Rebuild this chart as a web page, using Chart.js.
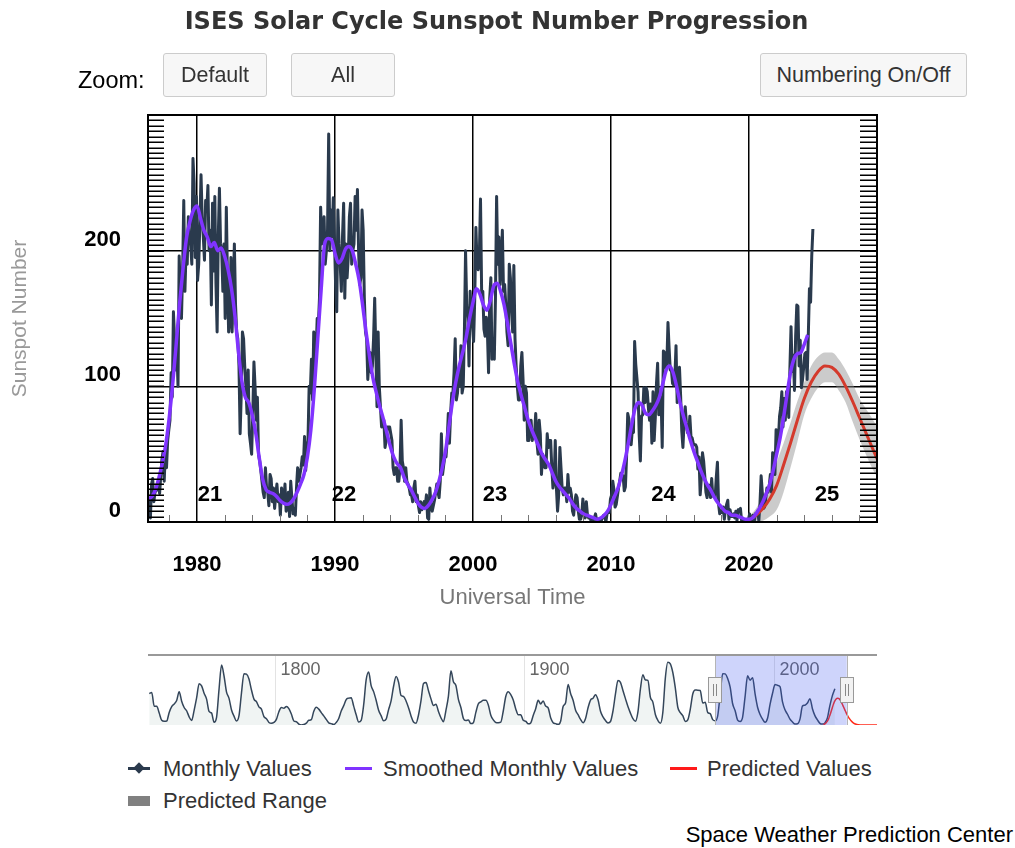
<!DOCTYPE html>
<html>
<head>
<meta charset="utf-8">
<script src="https://cdn.jsdelivr.net/npm/chart.js@4.4.1/dist/chart.umd.min.js"></script>
<style>
  body { margin: 0; background: #fff; font-family: "Liberation Sans", Arial, sans-serif; }
  #page { position: relative; width: 1015px; height: 848px; overflow: hidden; }
  canvas { position: absolute; left: 0; }
  .txt { position: absolute; white-space: nowrap; z-index: 2; }
  #title { left: 0; width: 993px; top: 9px; text-align: center; font: bold 24px "DejaVu Sans", Verdana, sans-serif; color: #333; line-height: 24px; }
  .btn { position: absolute; top: 53px; height: 42px; border: 1px solid #ccc; border-radius: 3px; background: #f7f7f7;
         font-size: 21.5px; color: #333; line-height: 42px; text-align: center; z-index: 2; }
  .leg { font-size: 22px; color: #333; line-height: 24px; }
  .mk { position: absolute; z-index: 2; }
</style>
</head>
<body>
<div id="page">
  <canvas id="main" width="1015" height="612" style="top:0;width:1015px;height:612px"></canvas>
  <canvas id="nav" width="1015" height="100" style="top:640px;width:1015px;height:100px"></canvas>

  <div id="title" class="txt">ISES Solar Cycle Sunspot Number Progression</div>
  <div class="txt" style="left:78px;top:68px;font-size:23.5px;line-height:24px;color:#000">Zoom:</div>
  <div class="btn" style="left:163px;width:102px">Default</div>
  <div class="btn" style="left:291px;width:102px">All</div>
  <div class="btn" style="left:760px;width:205px">Numbering On/Off</div>

  <div class="mk" style="left:128px;top:767px;width:22px;height:3px;background:#2a3a4d"></div>
  <div class="mk" style="left:135px;top:764px;width:8px;height:8px;background:#2a3a4d;transform:rotate(45deg)"></div>
  <div class="txt leg" style="left:163px;top:757px">Monthly Values</div>
  <div class="mk" style="left:345px;top:767px;width:27px;height:3px;background:#8033ff"></div>
  <div class="txt leg" style="left:383px;top:757px">Smoothed Monthly Values</div>
  <div class="mk" style="left:670px;top:767px;width:27px;height:3px;background:#ff1a1a"></div>
  <div class="txt leg" style="left:707px;top:757px">Predicted Values</div>
  <div class="mk" style="left:128px;top:796px;width:22px;height:10px;background:#808080"></div>
  <div class="txt leg" style="left:163px;top:789px">Predicted Range</div>

  <div class="txt" style="right:2px;top:823px;font-size:22px;line-height:24px;color:#000">Space Weather Prediction Center</div>
</div>

<script>
// ---- data ----
// monthly mean sunspot numbers, Jul 1976 .. Aug 2024
const monthlyStart = 1976.5
const monthlyValues = [
  18, 3, 28, 32, 15, 22,                                   // 1976 (Jul-Dec)
  23, 25, 30, 21, 34, 46, 52, 30, 53, 40, 60, 68,          // 1977
  75, 110, 92, 155, 135, 112, 128, 100, 196, 170, 150, 185, // 1978
  237, 170, 200, 190, 225, 210, 205, 190, 268, 250, 195, 240, // 1979
  178, 190, 220, 256, 225, 210, 193, 237, 230, 248, 200, 215, // 1980
  160, 235, 185, 240, 175, 140, 210, 246, 205, 200, 170, 205, // 1981
  150, 232, 180, 140, 150, 195, 140, 170, 205, 160, 140, 135, // 1982
  115, 65, 95, 140, 135, 115, 100, 80, 112, 65, 58, 50,     // 1983
  80, 118, 100, 75, 92, 50, 45, 38, 30, 22, 18, 40,         // 1984
  25, 22, 12, 35, 32, 15, 25, 10, 20, 28, 15, 20,           // 1985
  5, 25, 20, 15, 28, 8, 10, 22, 4, 30, 18, 6,               // 1986
  10, 5, 25, 40, 30, 35, 40, 48, 42, 63, 38, 55,            // 1987
  60, 100, 95, 120, 90, 140, 115, 125, 150, 145, 165, 232,  // 1988
  205, 215, 225, 190, 200, 215, 286, 200, 230, 210, 239, 210, // 1989
  175, 155, 230, 205, 190, 170, 210, 235, 165, 205, 180, 195, // 1990
  225, 235, 190, 200, 205, 240, 215, 245, 200, 175, 180, 230, // 1991
  215, 165, 140, 135, 105, 120, 125, 110, 115, 135, 165, 125, // 1992
  85, 140, 100, 85, 70, 75, 75, 55, 60, 70, 70, 70,         // 1993
  65, 60, 40, 35, 40, 40, 30, 30, 40, 75, 45, 40,           // 1994
  30, 40, 30, 28, 25, 20, 20, 15, 25, 30, 15, 20,           // 1995
  12, 7, 15, 9, 12, 15, 12, 20, 3, 2, 25, 12,               // 1996
  8, 12, 16, 22, 28, 22, 18, 30, 65, 35, 42, 48,            // 1997
  48, 60, 80, 58, 80, 95, 95, 110, 135, 90, 95, 110,        // 1998
  100, 130, 95, 100, 140, 200, 160, 150, 115, 170, 155, 145, // 1999
  133, 165, 217, 191, 186, 196, 238, 169, 170, 142, 137, 151, // 2000
  140, 110, 165, 180, 120, 135, 120, 165, 240, 190, 210, 175, // 2001
  190, 215, 170, 175, 160, 140, 130, 190, 180, 155, 140, 189, // 2002
  135, 115, 100, 90, 90, 115, 125, 105, 75, 100, 95, 60,    // 2003
  60, 70, 75, 60, 65, 65, 80, 60, 50, 75, 65, 35,           // 2004
  50, 45, 40, 40, 65, 55, 60, 60, 40, 25, 30, 60,           // 2005
  25, 8, 20, 55, 40, 25, 20, 25, 25, 15, 35, 22,            // 2006
  25, 20, 8, 5, 15, 20, 18, 8, 2, 2, 5, 17,                 // 2007
  5, 3, 15, 5, 3, 4, 1, 0, 1, 3, 6, 1,                      // 2008
  2, 2, 1, 1, 3, 5, 5, 0, 6, 7, 7, 17,                      // 2009
  20, 30, 24, 11, 13, 19, 25, 30, 36, 34, 34, 23,           // 2010
  26, 48, 80, 76, 58, 57, 68, 66, 133, 116, 106, 96,        // 2011
  64, 45, 78, 79, 99, 88, 99, 96, 84, 75, 87, 58,           // 2012
  96, 60, 77, 102, 117, 79, 86, 92, 55, 126, 125, 114,      // 2013
  116, 147, 128, 112, 112, 102, 101, 107, 130, 88, 104, 114, // 2014
  93, 67, 55, 73, 85, 73, 66, 65, 78, 63, 62, 58,           // 2015
  57, 57, 55, 39, 48, 20, 32, 51, 45, 34, 22, 18,           // 2016
  27, 27, 18, 32, 19, 19, 18, 33, 44, 13, 6, 8,             // 2017
  7, 11, 2, 9, 13, 16, 2, 9, 4, 4, 6, 3,                    // 2018
  8, 1, 9, 9, 10, 1, 1, 1, 1, 0, 1, 2,                      // 2019
  6, 0, 2, 5, 0, 6, 6, 8, 1, 14, 34, 22,                    // 2020
  10, 11, 17, 25, 22, 26, 35, 22, 51, 37, 35, 68,           // 2021
  55, 60, 78, 84, 96, 70, 91, 75, 96, 95, 77, 113,          // 2022
  144, 111, 123, 97, 137, 160, 159, 115, 134, 99, 105, 114, // 2023
  124, 125, 105, 137, 172, 162, 196, 216                    // 2024 (Jan-Aug)
]

// 13-month smoothed values, one every quarter from 1976.5
const smoothedStart = 1976.5
const smoothedValues = [
  17, 19,
  24, 33, 44, 58,   78, 103, 132, 162,   188, 210, 222, 230,   // 1977-79
  233, 224, 215, 210,   203, 206, 200, 202,   196, 186, 172, 152, // 1980-82
  126, 104, 92, 88,   79, 66, 48, 32,   24, 22, 21, 19,   // 1983-85
  16, 14, 13, 14,   17, 22, 28, 35,   48, 68, 98, 135,   // 1986-88
  172, 205, 209, 208,   198, 191, 194, 201,   203, 200, 190, 178, // 1989-91
  160, 140, 122, 106,   95, 85, 76, 66,   56, 48, 43, 40, // 1992-94
  33, 28, 24, 19,   14, 11, 10, 12,   16, 21, 29, 39,    // 1995-97
  52, 70, 88, 103,   115, 125, 136, 150,   162, 172, 168, 160, // 1998-2000
  156, 163, 174, 176,   170, 160, 146, 131,   116, 103, 93, 84, // 2001-03
  75, 68, 62, 56,   50, 46, 42, 36,   30, 26, 23, 20,   // 2004-06
  17, 13, 10, 8,   6, 5, 4, 3,   2, 3, 5, 8,            // 2007-09
  13, 19, 25, 34,   45, 58, 72, 84,   88, 86, 80, 79,   // 2010-12
  82, 86, 92, 102,   112, 115, 110, 100,   88, 78, 69, 60, // 2013-15
  52, 45, 38, 32,   27, 23, 18, 14,   11, 8, 7, 5,      // 2016-18
  5, 4, 3, 2,   2, 3, 6, 10,   15, 21, 28, 38,        // 2019-21
  50, 62, 77, 94,   110, 120, 124, 125,   131, 138     // 2022-24
]

// cycle 25 prediction and its range
const predYears  = [2019.9, 2020.5, 2021, 2021.5, 2022, 2022.5, 2023, 2023.5, 2024, 2024.5, 2025, 2025.5, 2026, 2026.5,
                    2027, 2027.5, 2028, 2028.5, 2029, 2029.5, 2030, 2030.5, 2031, 2032, 2033, 2034, 2035, 2041.4]
const predValues = [1, 5, 10, 17, 27, 42, 58, 75, 91, 103, 111, 115, 114, 109, 100, 89, 77, 65, 53, 42, 33, 25, 18, 8, 3, 1, 0, 0]
const predHigh   = [3, 10, 19, 30, 44, 58, 73, 89, 103, 115, 122, 125, 125, 120, 112, 102, 91, 83, 75, 66, 57, 48, 40, 25, 14, 7, 3, 0]
const predLow    = [0, 0, 1, 4, 9, 22, 40, 59, 79, 91, 99, 103, 103, 97, 88, 74, 61, 49, 38, 30, 22, 16, 11, 4, 1, 0, 0, 0]

// yearly values for the navigator strip, 1749 .. 2024
const navStart = 1749
const navValues = [
  135, 139, 80, 80, 51, 20, 16, 17, 54, 79,
  90, 105, 143, 102, 75, 61, 35, 19, 63, 116,
  177, 168, 136, 111, 58, 51, 12, 33, 154, 257,
  210, 141, 114, 64, 38, 17, 40, 138, 220, 218,
  197, 150, 111, 100, 78, 68, 36, 27, 11, 7,
  11, 24, 57, 75, 72, 79, 70, 47, 17, 14,
  4, 0, 2, 8, 20, 23, 59, 76, 68, 53,
  39, 24, 9, 6, 2, 11, 28, 60, 83, 109,
  115, 117, 81, 44, 13, 20, 86, 193, 227, 169,
  143, 106, 63, 40, 18, 25, 66, 103, 166, 208,
  183, 126, 122, 103, 74, 39, 13, 8, 43, 104,
  178, 182, 147, 112, 84, 89, 58, 31, 14, 63,
  124, 232, 185, 169, 110, 75, 28, 19, 21, 6,
  10, 54, 91, 99, 106, 106, 86, 42, 22, 11,
  10, 12, 60, 122, 142, 130, 107, 69, 44, 44,
  20, 16, 5, 9, 41, 70, 106, 90, 103, 81,
  73, 31, 10, 6, 2, 16, 79, 95, 174, 135,
  106, 63, 44, 24, 10, 28, 74, 107, 115, 130,
  108, 59, 35, 19, 9, 15, 60, 133, 191, 183,
  148, 113, 79, 51, 27, 16, 55, 154, 215, 193,
  191, 119, 98, 45, 20, 7, 54, 201, 269, 262,
  225, 159, 76, 53, 40, 15, 22, 67, 133, 150,
  149, 148, 94, 98, 54, 49, 23, 18, 39, 131,
  220, 219, 199, 162, 91, 61, 21, 15, 34, 123,
  211, 192, 203, 133, 76, 45, 25, 12, 29, 88,
  136, 174, 170, 164, 99, 65, 46, 25, 13, 4,
  5, 25, 81, 85, 94, 113, 70, 40, 22, 7,
  4, 9, 30, 83, 126, 155
]

const xTickYears = [1980, 1990, 2000, 2010, 2020]
const navTickYears = [1800, 1900, 2000]
const cycleNames = ['21', '22', '23', '24', '25']
const cycleLabelYears = [1980.95, 1990.65, 2001.6, 2013.8, 2025.65]

// visible window of the main chart
const viewMin = 1976.45
const viewMax = 2029.27

// ---- build points ----
const monthlyPts = monthlyValues.map((v, i) => ({x: monthlyStart + (i + 0.5) / 12, y: v}))
const smoothedPts = smoothedValues.map((v, i) => ({x: smoothedStart + i * 0.25, y: v}))
const predPts = predValues.map((v, i) => ({x: predYears[i], y: v}))
const highPts = predHigh.map((v, i) => ({x: predYears[i], y: v}))
const lowPts = predLow.map((v, i) => ({x: predYears[i], y: v}))
const navPts = navValues.map((v, i) => ({x: navStart + i + 0.5, y: v}))

const NAVY = '#2a3a4d'
const PURPLE = '#8033ff'
const RED = '#d43a2c'
const SANS = '"Liberation Sans", Arial, sans-serif'

// ticks, frame and cycle numbers on top of the main plot
const mainDecor = {
  id: 'mainDecor',
  afterDatasetsDraw(chart) {
    const {ctx, chartArea: a, scales: {x, y}} = chart
    ctx.save()
    ctx.strokeStyle = '#000'
    ctx.lineWidth = 1.5
    ctx.beginPath()
    for (let v = 0; v <= 300; v += 4) {
      const py = Math.round(y.getPixelForValue(v)) + 0.25
      ctx.moveTo(a.left, py); ctx.lineTo(a.left + 16, py)
      ctx.moveTo(a.right - 17, py); ctx.lineTo(a.right, py)
    }
    ctx.stroke()

    ctx.strokeStyle = '#777'
    ctx.lineWidth = 1
    ctx.beginPath()
    for (let yr = 1978; yr < viewMax; yr += 2) {
      if (yr % 10 === 0) continue
      const px = Math.round(x.getPixelForValue(yr)) + 0.5
      ctx.moveTo(px, a.bottom); ctx.lineTo(px, a.bottom - 7)
    }
    ctx.stroke()

    ctx.strokeStyle = '#000'
    ctx.lineWidth = 2
    ctx.strokeRect(a.left, a.top, a.width, a.height)

    ctx.fillStyle = '#000'
    ctx.font = 'bold 22px ' + SANS
    ctx.textAlign = 'center'
    ctx.textBaseline = 'middle'
    cycleNames.forEach((n, i) => {
      ctx.fillText(n, x.getPixelForValue(cycleLabelYears[i]), y.getPixelForValue(20))
    })
    ctx.restore()
  }
}

new Chart(document.getElementById('main'), {
  type: 'line',
  data: {
    datasets: [
      {label: 'Smoothed Monthly Values', data: smoothedPts, borderColor: PURPLE, borderWidth: 3.5,
       pointRadius: 0, cubicInterpolationMode: 'monotone'},
      {label: 'Predicted Values', data: predPts, borderColor: RED, borderWidth: 3,
       pointRadius: 0, cubicInterpolationMode: 'monotone'},
      {label: 'Monthly Values', data: monthlyPts, borderColor: NAVY, borderWidth: 3,
       pointRadius: 0, tension: 0, borderJoinStyle: 'round'},
      {label: 'Predicted Range', data: highPts, borderWidth: 0, pointRadius: 0,
       cubicInterpolationMode: 'monotone', fill: '+1', backgroundColor: 'rgba(140,140,140,0.45)'},
      {label: 'Predicted Low', data: lowPts, borderWidth: 0, pointRadius: 0,
       cubicInterpolationMode: 'monotone', fill: false}
    ]
  },
  options: {
    responsive: false,
    animation: false,
    layout: {padding: {top: 115, right: 138, left: 0, bottom: 0}},
    plugins: {legend: {display: false}, tooltip: {enabled: false}},
    scales: {
      x: {
        type: 'linear', min: viewMin, max: viewMax,
        afterBuildTicks: s => { s.ticks = xTickYears.map(v => ({value: v})) },
        afterFit: s => { s.height = 90 },
        ticks: {color: '#000', font: {family: SANS, size: 22, weight: 'bold'}, padding: 30, maxRotation: 0,
                callback: v => String(v)},
        grid: {color: '#000', lineWidth: 1.5, drawTicks: false, tickLength: 0},
        border: {color: '#000', width: 2},
        title: {display: true, text: 'Universal Time', color: '#777', font: {family: SANS, size: 22},
                padding: {top: 0, bottom: 1}}
      },
      y: {
        min: 0, max: 300,
        afterFit: s => { s.width = 148 },
        ticks: {stepSize: 100, color: '#000', font: {family: SANS, size: 22, weight: 'bold'}, padding: 27,
                labelOffset: -11, callback: v => v === 300 ? '' : String(v)},
        grid: {color: '#000', lineWidth: 1.5, drawTicks: false, tickLength: 0},
        border: {color: '#000', width: 2},
        title: {display: true, text: 'Sunspot Number', color: '#999', font: {family: SANS, size: 21},
                padding: {top: 8, bottom: 0}}
      }
    }
  },
  plugins: [mainDecor]
})

// navigator strip: grid, mask over the visible window and its handles
const navDecor = {
  id: 'navDecor',
  beforeDatasetsDraw(chart) {
    const {ctx, chartArea: a, scales: {x}} = chart
    ctx.save()
    ctx.strokeStyle = '#e3e3e3'
    ctx.lineWidth = 1
    ctx.fillStyle = '#666'
    ctx.font = '18px ' + SANS
    ctx.textBaseline = 'middle'
    navTickYears.forEach(yr => {
      const px = Math.round(x.getPixelForValue(yr)) + 0.5
      ctx.beginPath(); ctx.moveTo(px, a.top); ctx.lineTo(px, a.bottom); ctx.stroke()
      ctx.fillText(String(yr), px + 5, a.top + 15)
    })
    ctx.restore()
  },
  afterDatasetsDraw(chart) {
    const {ctx, chartArea: a, scales: {x}} = chart
    const x0 = x.getPixelForValue(viewMin), x1 = x.getPixelForValue(viewMax)
    ctx.save()
    ctx.fillStyle = 'rgba(60,85,240,0.25)'
    ctx.fillRect(x0, a.top, x1 - x0, a.bottom - a.top)
    ctx.strokeStyle = '#b5b5b5'
    ctx.lineWidth = 1
    ctx.beginPath()
    ctx.moveTo(Math.round(x0) + 0.5, a.top); ctx.lineTo(Math.round(x0) + 0.5, a.bottom)
    ctx.moveTo(Math.round(x1) + 0.5, a.top); ctx.lineTo(Math.round(x1) + 0.5, a.bottom)
    ctx.stroke()
    ctx.strokeStyle = '#999'
    ctx.lineWidth = 2
    ctx.beginPath(); ctx.moveTo(a.left, a.top); ctx.lineTo(a.right, a.top); ctx.stroke()
    const hy = a.top + 35
    ;[x0, x1].forEach(px => {
      px = Math.round(px)
      ctx.fillStyle = '#f2f2f2'
      ctx.strokeStyle = '#999'
      ctx.lineWidth = 1
      ctx.fillRect(px - 7, hy - 13, 14, 26)
      ctx.strokeRect(px - 6.5, hy - 12.5, 13, 25)
      ctx.strokeStyle = '#888'
      ctx.beginPath()
      ctx.moveTo(px - 1.5, hy - 6); ctx.lineTo(px - 1.5, hy + 6)
      ctx.moveTo(px + 1.5, hy - 6); ctx.lineTo(px + 1.5, hy + 6)
      ctx.stroke()
    })
    ctx.restore()
  }
}

new Chart(document.getElementById('nav'), {
  type: 'line',
  data: {
    datasets: [
      {label: 'Predicted Values', data: predPts, borderColor: '#ff2a1a', borderWidth: 1.5,
       pointRadius: 0, cubicInterpolationMode: 'monotone', fill: false},
      {label: 'Smoothed', data: navPts, borderColor: '#34465a', borderWidth: 1.5,
       pointRadius: 0, cubicInterpolationMode: 'monotone', fill: 'origin', backgroundColor: '#f0f4f3'}
    ]
  },
  options: {
    responsive: false,
    animation: false,
    layout: {padding: {top: 15, bottom: 15, left: 148, right: 138}},
    plugins: {legend: {display: false}, tooltip: {enabled: false}},
    scales: {
      x: {type: 'linear', min: 1749, max: 2041.4, display: false},
      y: {min: 0, max: 300, display: false}
    }
  },
  plugins: [navDecor]
})
</script>
</body>
</html>
